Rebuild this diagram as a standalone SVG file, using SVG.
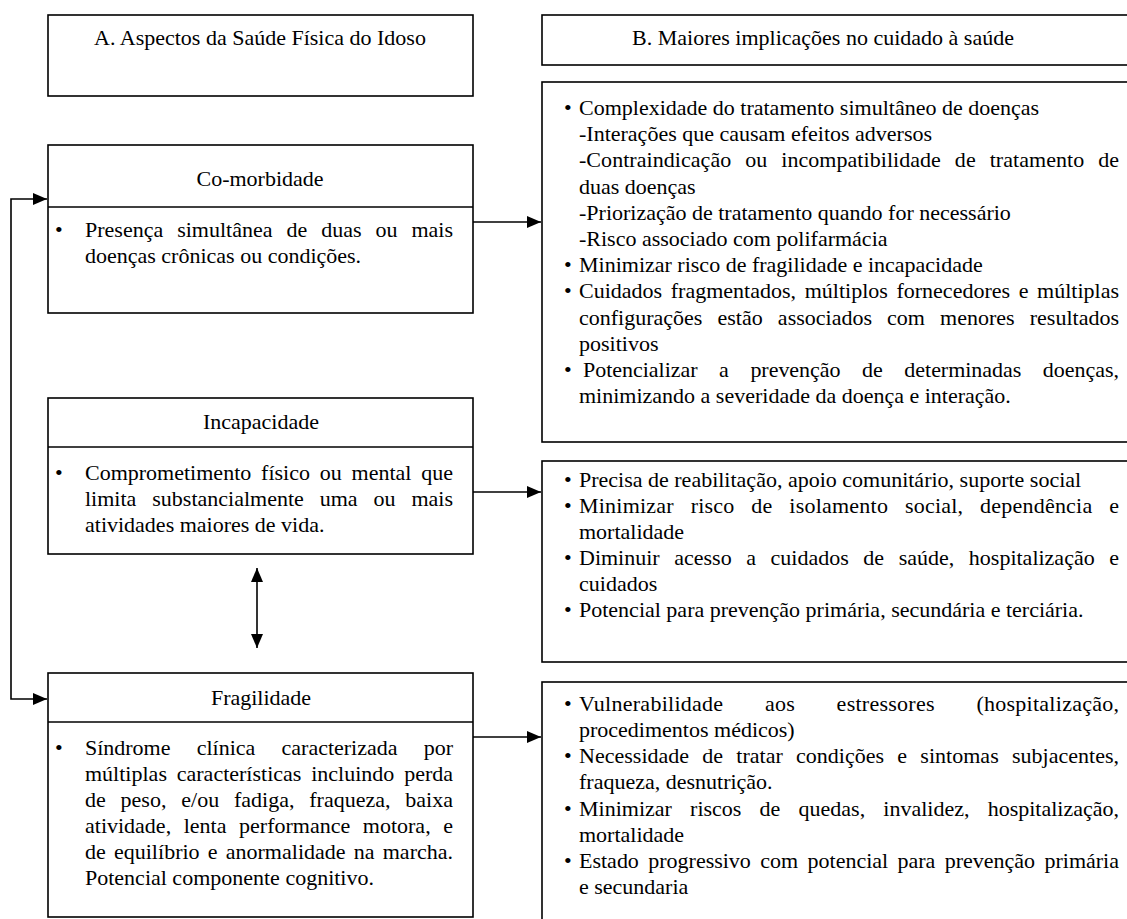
<svg xmlns="http://www.w3.org/2000/svg" width="1127" height="919" viewBox="0 0 1127 919">
<style>
  rect.box { fill: #fff; stroke: #000; stroke-width: 1.6; }
  line.div { stroke: #000; stroke-width: 1.6; }
  text { font-family: "Liberation Serif", "Times New Roman", serif; font-size: 22px; fill: #000; }
  text.c { text-anchor: middle; }
  .conn path { fill: none; stroke: #000; stroke-width: 1.6; }
</style>
<defs>
  <marker id="ah" viewBox="0 0 14 12" refX="14" refY="6" markerWidth="14" markerHeight="12" markerUnits="userSpaceOnUse" orient="auto-start-reverse">
    <path d="M0,0 L14,6 L0,12 z" fill="#000"/>
  </marker>
</defs>

<g id="headerA">
  <rect class="box" x="48" y="15" width="425" height="81"/>
  <text class="c" x="260" y="45">A. Aspectos da Saúde Física do Idoso</text>
</g>

<g id="headerB">
  <rect class="box" x="542" y="15" width="600" height="50"/>
  <text class="c" x="823" y="45">B. Maiores implicações no cuidado à saúde</text>
</g>

<g id="comorbidade">
  <rect class="box" x="48" y="145" width="425" height="168"/>
  <line class="div" x1="48" y1="207" x2="473" y2="207"/>
  <text class="c" x="260" y="186">Co-morbidade</text>
  <text x="55" y="237">•</text>
  <text x="85" y="237" word-spacing="8.5" textLength="368" lengthAdjust="spacing">Presença simultânea de duas ou mais</text>
  <text x="85" y="263">doenças crônicas ou condições.</text>
</g>

<g id="incapacidade">
  <rect class="box" x="48" y="398" width="425" height="156"/>
  <line class="div" x1="48" y1="447" x2="473" y2="447"/>
  <text class="c" x="261" y="429">Incapacidade</text>
  <text x="55" y="480">•</text>
  <text x="85" y="480" word-spacing="4.3" textLength="368" lengthAdjust="spacing">Comprometimento físico ou mental que</text>
  <text x="85" y="506" word-spacing="10.4" textLength="368" lengthAdjust="spacing">limita substancialmente uma ou mais</text>
  <text x="85" y="532">atividades maiores de vida.</text>
</g>

<g id="fragilidade">
  <rect class="box" x="48" y="673" width="425" height="244"/>
  <line class="div" x1="48" y1="722" x2="473" y2="722"/>
  <text class="c" x="261" y="705">Fragilidade</text>
  <text x="55" y="755">•</text>
  <text x="85" y="755" word-spacing="20.8" textLength="368" lengthAdjust="spacing">Síndrome clínica caracterizada por</text>
  <text x="85" y="781" word-spacing="4.3" textLength="368" lengthAdjust="spacing">múltiplas características incluindo perda</text>
  <text x="85" y="807" word-spacing="9.3" textLength="368" lengthAdjust="spacing">de peso, e/ou fadiga, fraqueza, baixa</text>
  <text x="85" y="833" word-spacing="7.1" textLength="368" lengthAdjust="spacing">atividade, lenta performance motora, e</text>
  <text x="85" y="859" word-spacing="2.7" textLength="368" lengthAdjust="spacing">de equilíbrio e anormalidade na marcha.</text>
  <text x="85" y="885">Potencial componente cognitivo.</text>
</g>

<g id="implicacoes-comorbidade">
  <rect class="box" x="542" y="82" width="600" height="360"/>
  <text x="564" y="115">•</text>
  <text x="579" y="115">Complexidade do tratamento simultâneo de doenças</text>
  <text x="579" y="141">-Interações que causam efeitos adversos</text>
  <text x="579" y="167" word-spacing="8.4" textLength="540" lengthAdjust="spacing">-Contraindicação ou incompatibilidade de tratamento de</text>
  <text x="579" y="194">duas doenças</text>
  <text x="579" y="220">-Priorização de tratamento quando for necessário</text>
  <text x="579" y="246">-Risco associado com polifarmácia</text>
  <text x="564" y="272">•</text>
  <text x="579" y="272">Minimizar risco de fragilidade e incapacidade</text>
  <text x="564" y="298">•</text>
  <text x="579" y="298" word-spacing="3.1" textLength="540" lengthAdjust="spacing">Cuidados fragmentados, múltiplos fornecedores e múltiplas</text>
  <text x="579" y="325" word-spacing="9.6" textLength="540" lengthAdjust="spacing">configurações estão associados com menores resultados</text>
  <text x="579" y="351">positivos</text>
  <text x="564" y="377">•</text>
  <text x="583" y="377" word-spacing="16.1" textLength="536" lengthAdjust="spacing">Potencializar a prevenção de determinadas doenças,</text>
  <text x="579" y="403">minimizando a severidade da doença e interação.</text>
</g>

<g id="implicacoes-incapacidade">
  <rect class="box" x="542" y="461" width="600" height="201"/>
  <text x="564" y="487">•</text>
  <text x="579" y="487">Precisa de reabilitação, apoio comunitário, suporte social</text>
  <text x="564" y="513">•</text>
  <text x="579" y="513" word-spacing="11.1" textLength="540" lengthAdjust="spacing">Minimizar risco de isolamento social, dependência e</text>
  <text x="579" y="539">mortalidade</text>
  <text x="564" y="565">•</text>
  <text x="579" y="565" word-spacing="9.1" textLength="540" lengthAdjust="spacing">Diminuir acesso a cuidados de saúde, hospitalização e</text>
  <text x="579" y="591">cuidados</text>
  <text x="564" y="617">•</text>
  <text x="579" y="617">Potencial para prevenção primária, secundária e terciária.</text>
</g>

<g id="implicacoes-fragilidade">
  <rect class="box" x="542" y="682" width="600" height="260"/>
  <text x="564" y="711">•</text>
  <text x="579" y="711" word-spacing="35.8" textLength="540" lengthAdjust="spacing">Vulnerabilidade aos estressores (hospitalização,</text>
  <text x="579" y="737">procedimentos médicos)</text>
  <text x="564" y="763">•</text>
  <text x="579" y="763" word-spacing="7.7" textLength="540" lengthAdjust="spacing">Necessidade de tratar condições e sintomas subjacentes,</text>
  <text x="579" y="789">fraqueza, desnutrição.</text>
  <text x="564" y="816">•</text>
  <text x="579" y="816" word-spacing="12.7" textLength="540" lengthAdjust="spacing">Minimizar riscos de quedas, invalidez, hospitalização,</text>
  <text x="579" y="842">mortalidade</text>
  <text x="564" y="868">•</text>
  <text x="579" y="868" word-spacing="3.9" textLength="540" lengthAdjust="spacing">Estado progressivo com potencial para prevenção primária</text>
  <text x="579" y="894">e secundaria</text>
</g>

<g id="connectors" class="conn">
  <path d="M47,199 L11,199 L11,699 L47,699" marker-start="url(#ah)" marker-end="url(#ah)"/>
  <path d="M473,222 L541,222" marker-end="url(#ah)"/>
  <path d="M473,492 L541,492" marker-end="url(#ah)"/>
  <path d="M473,737 L541,737" marker-end="url(#ah)"/>
  <path d="M257,568 L257,648" marker-start="url(#ah)" marker-end="url(#ah)"/>
</g>
</svg>
